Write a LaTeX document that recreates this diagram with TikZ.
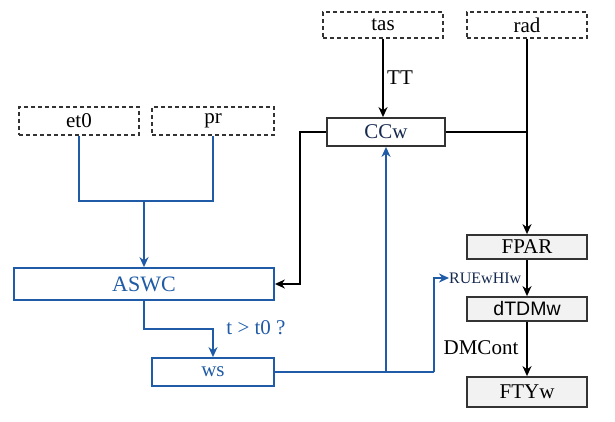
\documentclass[tikz,border=0pt]{standalone}
\usepackage{fontspec}
\setmainfont{Liberation Serif}
\newfontfamily\sansf{Liberation Sans}
\usetikzlibrary{arrows.meta}
\definecolor{mblue}{HTML}{1F5BA6}
\definecolor{mnavy}{HTML}{15294F}
\definecolor{mgray}{HTML}{F2F2F2}
\definecolor{mdark}{HTML}{333333}
\tikzset{
  base/.style={draw, rectangle, inner sep=0pt, font=\fontsize{21}{25}\selectfont},
  inbox/.style={base, draw=mdark, line width=1.5pt, dash pattern=on 4pt off 3pt},
  bluebox/.style={base, draw=mblue, line width=1.8pt, text=mblue},
  blackbox/.style={base, draw=mdark, line width=1.8pt, text=mnavy},
  graybox/.style={base, draw=mdark, fill=mgray, line width=1.8pt},
  blueline/.style={draw=mblue, line width=2pt},
  blackline/.style={draw=black, line width=2pt},
  tip/.style={-{Stealth[length=10pt,width=9pt]}},
  lbl/.style={inner sep=0pt, font=\fontsize{21}{25}\selectfont}
}
\begin{document}
\begin{tikzpicture}[x=1pt,y=-1pt]
\useasboundingbox (0,0) rectangle (615,422);
% input boxes
\node[inbox, minimum width=120pt, minimum height=28pt] (et0) at (79,121) {et0};
\node[inbox, minimum width=122pt, minimum height=28pt] (pr) at (213,121) {pr};
\node[inbox, minimum width=120pt, minimum height=26pt] (tas) at (383,25) {tas};
\node[inbox, minimum width=120pt, minimum height=26pt] (rad) at (527,25) {rad};
% process boxes
\node[blackbox, minimum width=118pt, minimum height=28pt] (CCw) at (386,132) {CCw};
\node[bluebox, minimum width=260pt, minimum height=32pt, font=\fontsize{22}{26}\selectfont] (ASWC) at (144,284) {ASWC};
\node[bluebox, minimum width=122pt, minimum height=28pt] (ws) at (213,372) {ws};
\node[graybox, minimum width=120pt, minimum height=24pt] (FPAR) at (527,247) {FPAR};
\node[graybox, minimum width=120pt, minimum height=24pt, font=\sansf\fontsize{19.5}{23}\selectfont] (dTDMw) at (527,309) {dTDMw};
\node[graybox, minimum width=120pt, minimum height=30pt] (FTYw) at (527,392) {FTYw};
% labels
\node[lbl, text=black] (TT) at (400,78) {TT};
\node[lbl, text=mblue] (cond) at (256,328) {t > t0 ?};
\node[lbl, text=black] (DMC) at (481,348) {DMCont};
\node[inner sep=0pt, anchor=west, text=mnavy, font=\fontsize{16}{19}\selectfont] (RUE) at (449,278) {RUEwHIw};
\coordinate (j1) at (144,201);
\coordinate (j2) at (434,372);
% connectors
\draw[blueline] (et0.south) |- (j1) -| (pr.south);
\draw[blueline, tip] (j1) -- (ASWC.north);
\draw[blackline, tip] (CCw.west) -- ++(-26,0) |- (ASWC.east);
\draw[blackline, tip] (tas.south) -- (tas.south |- CCw.north);
\draw[blackline] (CCw.east) -- (rad.south |- CCw.east);
\draw[blackline, tip] (rad.south) -- (FPAR.north);
\draw[blueline, tip] (ASWC.south) |- (144,329) -| (ws.north);
\draw[blueline] (ws.east) -- (j2);
\draw[blueline, tip] (j2) |- (RUE.west);
\draw[blueline, tip] (CCw.south |- ws.east) -- (CCw.south);
\draw[blackline, tip] (FPAR.south) -- (dTDMw.north);
\draw[blackline, tip] (dTDMw.south) -- (FTYw.north);
\end{tikzpicture}
\end{document}
